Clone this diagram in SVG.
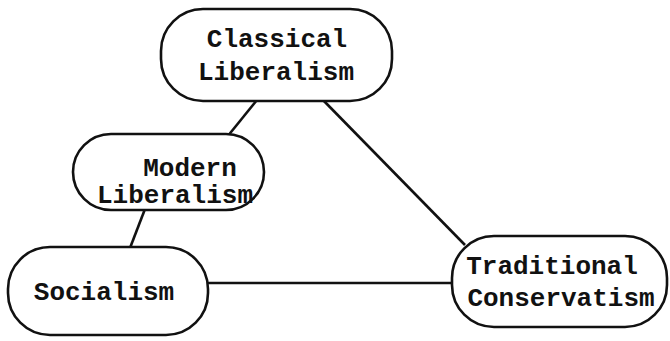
<svg xmlns="http://www.w3.org/2000/svg" width="670" height="341" viewBox="0 0 670 341">
  <style>
    .node { fill: #fff; stroke: #111; stroke-width: 2.6; }
    .edge { stroke: #111; stroke-width: 2.6; fill: none; }
    text { font-family: "Liberation Mono", "DejaVu Sans Mono", monospace; font-size: 26px; font-weight: bold; fill: #111; }
  </style>
  <rect width="670" height="341" fill="#fff"/>
  <g id="connectors">
    <line class="edge" x1="257" y1="100" x2="227" y2="137"/>
    <line class="edge" x1="322" y1="99" x2="465" y2="245"/>
    <line class="edge" x1="145" y1="209" x2="130" y2="248"/>
    <line class="edge" x1="207" y1="283" x2="454" y2="283"/>
  </g>
  <g id="classical-liberalism">
    <rect class="node" x="161" y="9" width="231" height="92" rx="42" ry="42"/>
    <text x="277" y="47" text-anchor="middle">Classical</text>
    <text x="276" y="80" text-anchor="middle">Liberalism</text>
  </g>
  <g id="modern-liberalism">
    <rect class="node" x="73" y="134" width="191" height="76" rx="38" ry="38"/>
    <text x="190" y="176" text-anchor="middle">Modern</text>
    <text x="175" y="203" text-anchor="middle">Liberalism</text>
  </g>
  <g id="socialism">
    <rect class="node" x="8" y="247" width="200" height="88" rx="42" ry="42"/>
    <text x="104" y="300" text-anchor="middle">Socialism</text>
  </g>
  <g id="traditional-conservatism">
    <rect class="node" x="452" y="236" width="215" height="91" rx="42" ry="42"/>
    <text x="552" y="274" text-anchor="middle">Traditional</text>
    <text x="561" y="306" text-anchor="middle">Conservatism</text>
  </g>
</svg>
